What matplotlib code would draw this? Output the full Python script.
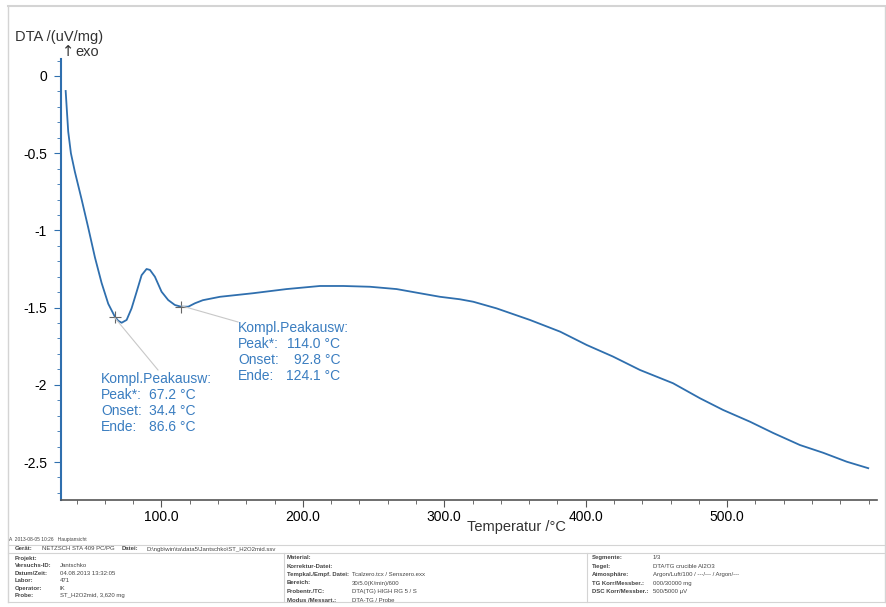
import matplotlib
matplotlib.use("Agg")
import matplotlib.pyplot as plt
from matplotlib.ticker import MultipleLocator, FixedLocator, FuncFormatter
from matplotlib.lines import Line2D

plt.rcParams['font.family'] = ['Liberation Sans', 'DejaVu Sans']
plt.rcParams['axes.unicode_minus'] = False

# DTA curve (temperature in C, DTA in uV/mg)
temp = [32.3, 33.2, 34.1, 36.0, 38.8, 43.6, 48.2, 53.0, 57.7, 62.4, 67.1, 69.4,
        71.9, 75.4, 78.9, 82.5, 86.0, 89.5, 91.9, 95.4, 100.1, 104.8, 109.5,
        113.8, 119.0, 123.7, 129.3, 141.4, 164.7, 188.5, 212.1, 228.6, 247.5,
        266.3, 282.8, 297.0, 311.0, 320.5, 337.0, 360.6, 382.0, 400.7, 419.3,
        438.4, 461.8, 480.8, 497.2, 516.2, 532.6, 551.5, 567.9, 584.6, 599.8]
dta = [-0.097, -0.23, -0.36, -0.50, -0.62, -0.80, -0.98, -1.175, -1.34, -1.475,
       -1.559, -1.585, -1.598, -1.58, -1.505, -1.397, -1.29, -1.25, -1.256,
       -1.30, -1.397, -1.451, -1.483, -1.494, -1.494, -1.472, -1.452, -1.43,
       -1.407, -1.38, -1.36, -1.36, -1.365, -1.38, -1.407, -1.43, -1.446,
       -1.462, -1.505, -1.58, -1.656, -1.742, -1.817, -1.904, -1.99, -2.087,
       -2.163, -2.239, -2.312, -2.39, -2.44, -2.498, -2.54]

peak_t = [67.2, 114.0]
peak_y = [-1.559, -1.494]
peak_labels = ["Peak*:", "Onset:", "Ende:"]
peak1_values = ["67.2 \u00b0C", "34.4 \u00b0C", "86.6 \u00b0C"]
peak2_values = ["114.0 \u00b0C", "92.8 \u00b0C", "124.1 \u00b0C"]
x_ticks = [100, 200, 300, 400, 500]

blue = '#2f6fae'
txtblue = '#3a7dc0'

fig = plt.figure(figsize=(8.87, 6.07), dpi=100)
W, H = 887.0, 607.0
def fx(px):
    return px / W
def fy(py):
    return 1 - py / H

ax = fig.add_axes([fx(61), fy(500), fx(877) - fx(61), fy(59) - fy(500)])
ax.plot(temp, dta, color=blue, lw=1.3)
ax.plot(peak_t, peak_y, '+', color='#666666', ms=8, mew=0.8)

ax.set_xlim(29, 606)
ax.set_ylim(-2.746, 0.11)

for s in ['top', 'right']:
    ax.spines[s].set_visible(False)
ax.spines['left'].set_color(blue)
ax.spines['left'].set_linewidth(1.5)
ax.spines['bottom'].set_color('#555555')
ax.spines['bottom'].set_linewidth(1.2)

ax.yaxis.set_major_locator(MultipleLocator(0.5))
ax.yaxis.set_minor_locator(MultipleLocator(0.1))
ax.yaxis.set_major_formatter(FuncFormatter(lambda v, p: '%g' % round(v, 2)))
ax.xaxis.set_major_locator(FixedLocator(x_ticks))
ax.xaxis.set_minor_locator(MultipleLocator(20))
ax.xaxis.set_major_formatter(FuncFormatter(lambda v, p: '%.1f' % v))
ax.tick_params(axis='y', which='major', length=5, color=blue, labelsize=10, pad=5)
ax.tick_params(axis='y', which='minor', length=3, color=blue)
ax.tick_params(axis='x', which='major', length=5, color='#555555', labelsize=10, pad=2)
ax.tick_params(axis='x', which='minor', length=3, color='#555555')

fig.text(fx(15), fy(37), "DTA /(uV/mg)", fontsize=10.5, va='center', ha='left', color='#333333')
fig.text(fx(62), fy(52), "\u2191", fontsize=10.5, va='center', ha='left', color='#333333',
         family=['DejaVu Sans'])
fig.text(fx(75), fy(52), "exo", fontsize=10.5, va='center', ha='left', color='#333333')
fig.text(fx(516), fy(527), "Temperatur /\u00b0C", fontsize=10.5, va='center', ha='center', color='#333333')

# leader lines from the peak marks to their text
fig.add_artist(Line2D([fx(115), fx(158)], [fy(318), fy(370)], color='#c8c8c8', lw=0.8))
fig.add_artist(Line2D([fx(182), fx(238)], [fy(306), fy(322)], color='#c8c8c8', lw=0.8))

def block(x0, y0, values, vx):
    fig.text(fx(x0), fy(y0), "Kompl.Peakausw:", fontsize=10, color=txtblue, va='center')
    for i in range(3):
        fig.text(fx(x0), fy(y0 + 16 * (i + 1)), peak_labels[i], fontsize=10, color=txtblue, va='center')
        fig.text(fx(vx), fy(y0 + 16 * (i + 1)), values[i], fontsize=10, color=txtblue, va='center', ha='right')

block(101, 379, peak1_values, 196)
block(238, 328, peak2_values, 340)

# outer frame
frame_c = '#d4d4d4'
fig.add_artist(Line2D([fx(8), fx(885)], [fy(6), fy(6)], color=frame_c, lw=1.5))
fig.add_artist(Line2D([fx(8), fx(8)], [fy(6), fy(602)], color=frame_c, lw=1.0))
fig.add_artist(Line2D([fx(885), fx(885)], [fy(6), fy(602)], color=frame_c, lw=1.0))

# info table
fs = 4.3
tc = '#444444'
fig.text(fx(9), fy(540), "A  2013-08-05 10:26   Hauptansicht", fontsize=3.5, color=tc, va='center')
fig.add_artist(Line2D([fx(8), fx(885)], [fy(545), fy(545)], color=frame_c, lw=0.8))
fig.add_artist(Line2D([fx(8), fx(885)], [fy(552.5), fy(552.5)], color=frame_c, lw=0.8))
fig.add_artist(Line2D([fx(8), fx(885)], [fy(602), fy(602)], color=frame_c, lw=0.8))
fig.add_artist(Line2D([fx(284), fx(284)], [fy(552.5), fy(602)], color=frame_c, lw=0.8))
fig.add_artist(Line2D([fx(587), fx(587)], [fy(552.5), fy(602)], color=frame_c, lw=0.8))

fig.text(fx(15), fy(549), "Ger\u00e4t:", fontsize=fs, color=tc, va='center', weight='bold')
fig.text(fx(42), fy(549), "NETZSCH STA 409 PC/PG", fontsize=fs, color=tc, va='center')
fig.text(fx(122), fy(549), "Datei:", fontsize=fs, color=tc, va='center', weight='bold')
fig.text(fx(147), fy(549), "D:\\ngb\\win\\ta\\data5\\Jantschko\\ST_H2O2mid.ssv", fontsize=fs, color=tc, va='center')

left_keys = ["Projekt:", "Versuchs-ID:", "Datum/Zeit:", "Labor:", "Operator:", "Probe:"]
left_vals = ["", "Jantschko", "04.08.2013 13:32:05", "471", "IK", "ST_H2O2mid, 3,620 mg"]
mid_keys = ["Material:", "Korrektur-Datei:", "Tempkal./Empf. Datei:", "Bereich:", "Probentr./TC:", "Modus /Messart.:"]
mid_vals = ["", "", "Tcalzero.tcx / Senszero.exx", "30/5.0(K/min)/600", "DTA(TG) HIGH RG 5 / S", "DTA-TG / Probe"]
right_keys = ["Segmente:", "Tiegel:", "Atmosph\u00e4re:", "TG Korr/Messber.:", "DSC Korr/Messber.:"]
right_vals = ["1/3", "DTA/TG crucible Al2O3", "Argon/Luft/100 / ---/--- / Argon/---", "000/30000 mg", "500/5000 \u00b5V"]

for i in range(len(left_keys)):
    y = 558.5 + 7.4 * i
    fig.text(fx(15), fy(y), left_keys[i], fontsize=fs, color=tc, va='center', weight='bold')
    fig.text(fx(60), fy(y), left_vals[i], fontsize=fs, color=tc, va='center')
for i in range(len(mid_keys)):
    y = 557.5 + 8.5 * i
    fig.text(fx(287), fy(y), mid_keys[i], fontsize=fs, color=tc, va='center', weight='bold')
    fig.text(fx(352), fy(y), mid_vals[i], fontsize=fs, color=tc, va='center')
for i in range(len(right_keys)):
    y = 557.5 + 8.6 * i
    fig.text(fx(592), fy(y), right_keys[i], fontsize=fs, color=tc, va='center', weight='bold')
    fig.text(fx(653), fy(y), right_vals[i], fontsize=fs, color=tc, va='center')

fig.savefig("out.png", dpi=100)
